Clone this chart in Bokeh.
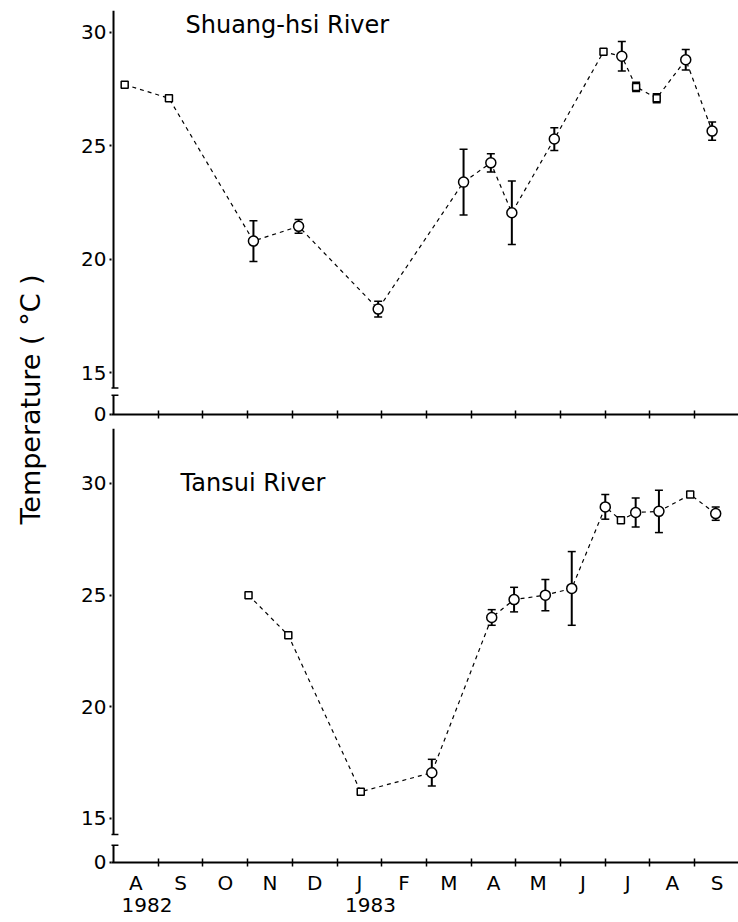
from math import pi
from bokeh.plotting import figure
from bokeh.layouts import row, column
from bokeh.models import (Range1d, FixedTicker, LinearAxis, ColumnDataSource,
                          Whisker, TeeHead, Label)
from bokeh.core.properties import value
from bokeh.embed import file_html
from bokeh.resources import INLINE

FONT = "DejaVu Sans"

# ---------------- data ----------------
month_labels = ["A", "S", "O", "N", "D", "J", "F", "M", "A", "M", "J", "J", "A", "S"]
year_labels = ["1982", "1983"]
year_start_index = [0, 5]          # Aug 1982, Jan 1983
y_tick_values = [15, 20, 25, 30]

# month index: 0 = 1 Aug 1982
shuang_month = [0.25, 1.24, 3.13, 4.14, 5.92, 7.83, 8.44, 8.91, 9.86,
                10.96, 11.37, 11.69, 12.15, 12.80, 13.39]
shuang_temp = [27.7, 27.1, 20.8, 21.45, 17.8, 23.4, 24.25, 22.05, 25.3,
               29.15, 28.95, 27.6, 27.1, 28.8, 25.65]
shuang_err = [0, 0, 0.9, 0.3, 0.35, 1.45, 0.4, 1.4, 0.5,
              0, 0.65, 0.2, 0.2, 0.45, 0.4]
shuang_marker = ["square", "square", "circle", "circle", "circle", "circle", "circle",
                 "circle", "circle", "square", "circle", "square", "square",
                 "circle", "circle"]

tansui_month = [3.02, 3.91, 5.53, 7.12, 8.46, 8.96, 9.66, 10.25, 11.0,
                11.35, 11.68, 12.2, 12.9, 13.47]
tansui_temp = [25.0, 23.2, 16.2, 17.05, 24.0, 24.8, 25.0, 25.3, 28.95,
               28.35, 28.7, 28.75, 29.5, 28.65]
tansui_err = [0, 0, 0, 0.6, 0.35, 0.55, 0.7, 1.65, 0.55,
              0, 0.65, 0.95, 0, 0.3]
tansui_marker = ["square", "square", "square", "circle", "circle", "circle", "circle",
                 "circle", "circle", "square", "circle", "circle", "square", "circle"]

# ---------------- layout geometry ----------------
LEFT_W = 62
MAIN_W = 738 - LEFT_W
X_START, X_END = -0.045, 13.98


def panel(months, temps, errs, markers, title, title_x, title_y,
          y_lo, y_hi, zero_tick, brk_hi, brk_lo, height, b_top, b_bottom, bottom):
    p = figure(width=MAIN_W, height=height,
               x_range=Range1d(X_START, X_END), y_range=Range1d(y_lo, y_hi),
               output_backend="svg", toolbar_location=None,
               x_axis_type=None, y_axis_type=None,
               min_border_left=111 - LEFT_W, min_border_right=0,
               min_border_top=b_top, min_border_bottom=b_bottom)
    p.outline_line_color = None
    p.background_fill_color = "white"
    p.border_fill_color = "white"

    # y axis (ticks + labels), line drawn separately with a break
    overrides = {zero_tick: "0"}
    for t in y_tick_values:
        overrides[t] = str(t)
    yax = LinearAxis(ticker=FixedTicker(ticks=[zero_tick] + y_tick_values),
                     major_label_overrides=overrides,
                     axis_line_color=None, major_tick_in=0, major_tick_out=2,
                     major_tick_line_width=2, minor_tick_line_color=None,
                     major_label_standoff=3, major_label_text_font=FONT,
                     major_label_text_font_size="20px", major_label_text_color="black")
    p.add_layout(yax, "left")

    p.segment(x0=[0, 0], y0=[brk_hi, y_lo], x1=[0, 0], y1=[y_hi, brk_lo],
              line_width=2, line_color="black")
    p.segment(x0=[-0.11, -0.11], y0=[brk_hi, brk_lo], x1=[0.11, 0.11], y1=[brk_hi, brk_lo],
              line_width=1.5, line_color="black")

    if not bottom:
        xax = LinearAxis(ticker=FixedTicker(ticks=list(range(1, 14))),
                         major_label_overrides={i: "" for i in range(1, 14)},
                         major_label_text_font_size="1px", major_label_standoff=0,
                         major_tick_in=4, major_tick_out=4, major_tick_line_width=1.5,
                         minor_tick_line_color=None, axis_line_width=2)
        p.add_layout(xax, "below")
    else:
        ticker = FixedTicker(ticks=[i + 0.5 for i in range(len(month_labels))],
                             minor_ticks=list(range(1, 14)))
        xax = LinearAxis(ticker=ticker,
                         major_label_overrides={i + 0.5: m for i, m in enumerate(month_labels)},
                         major_tick_line_color=None, major_tick_in=0, major_tick_out=4,
                         minor_tick_in=4, minor_tick_out=4, minor_tick_line_width=1.5,
                         minor_tick_line_color="black", axis_line_width=2,
                         major_label_standoff=4, major_label_text_font=FONT,
                         major_label_text_font_size="20px", major_label_text_color="black")
        p.add_layout(xax, "below")
        ypos = [i + 0.75 for i in year_start_index]
        yr = LinearAxis(ticker=FixedTicker(ticks=ypos),
                        major_label_overrides={v: l for v, l in zip(ypos, year_labels)},
                        axis_line_color=None, major_tick_line_color=None,
                        minor_tick_line_color=None, major_tick_in=0, major_tick_out=0,
                        major_label_standoff=0, major_label_text_font=FONT,
                        major_label_text_font_size="20px", major_label_text_color="black")
        p.add_layout(yr, "below")

    # connecting dashed line
    p.line(months, temps, line_dash="4 4", line_width=1.2, line_color="black")

    # error bars
    ex = [m for m, e in zip(months, errs) if e > 0]
    eu = [t + e for t, e in zip(temps, errs) if e > 0]
    el = [t - e for t, e in zip(temps, errs) if e > 0]
    src = ColumnDataSource(dict(x=ex, upper=eu, lower=el))
    w = Whisker(source=src, base="x", upper="upper", lower="lower", dimension="height",
                line_width=2, line_color="black",
                upper_head=TeeHead(size=8, line_width=1.5, line_color="black"),
                lower_head=TeeHead(size=8, line_width=1.5, line_color="black"))
    p.add_layout(w)

    cx = [m for m, k in zip(months, markers) if k == "circle"]
    cy = [t for t, k in zip(temps, markers) if k == "circle"]
    sx = [m for m, k in zip(months, markers) if k == "square"]
    sy = [t for t, k in zip(temps, markers) if k == "square"]
    p.scatter(cx, cy, marker="circle", size=10, fill_color="white",
              line_color="black", line_width=1.5)
    p.scatter(sx, sy, marker="square", size=7, fill_color="white",
              line_color="black", line_width=1.5)

    p.add_layout(Label(x=title_x, y=title_y, text=title, text_font=FONT,
                       text_font_size="24px", text_color="black",
                       text_baseline="middle", text_align="left"))
    return p


top = panel(shuang_month, shuang_temp, shuang_err, shuang_marker, "Shuang-hsi River",
            1.61, 30.35, 13.15, 30.97, 13.16, 14.32, 14.0, 428, 10, 14, False)
bot = panel(tansui_month, tansui_temp, tansui_err, tansui_marker, "Tansui River",
            1.50, 30.0, 13.03, 32.46, 13.04, 14.28, 13.8, 494, 0, 60, True)

left = figure(width=LEFT_W, height=922, x_range=Range1d(0, LEFT_W), y_range=Range1d(0, 922),
              output_backend="svg", toolbar_location=None, x_axis_type=None, y_axis_type=None,
              min_border=0)
left.outline_line_color = None
left.grid.visible = False
left.text(x=[30], y=[922 - 399], text=["Temperature ( °C )"], angle=pi / 2,
          text_align="center", text_baseline="middle", text_font=value(FONT),
          text_font_size="27px", text_color="black")

layout = row(left, column(top, bot))
open("out.html", "w").write(file_html(layout, INLINE))
